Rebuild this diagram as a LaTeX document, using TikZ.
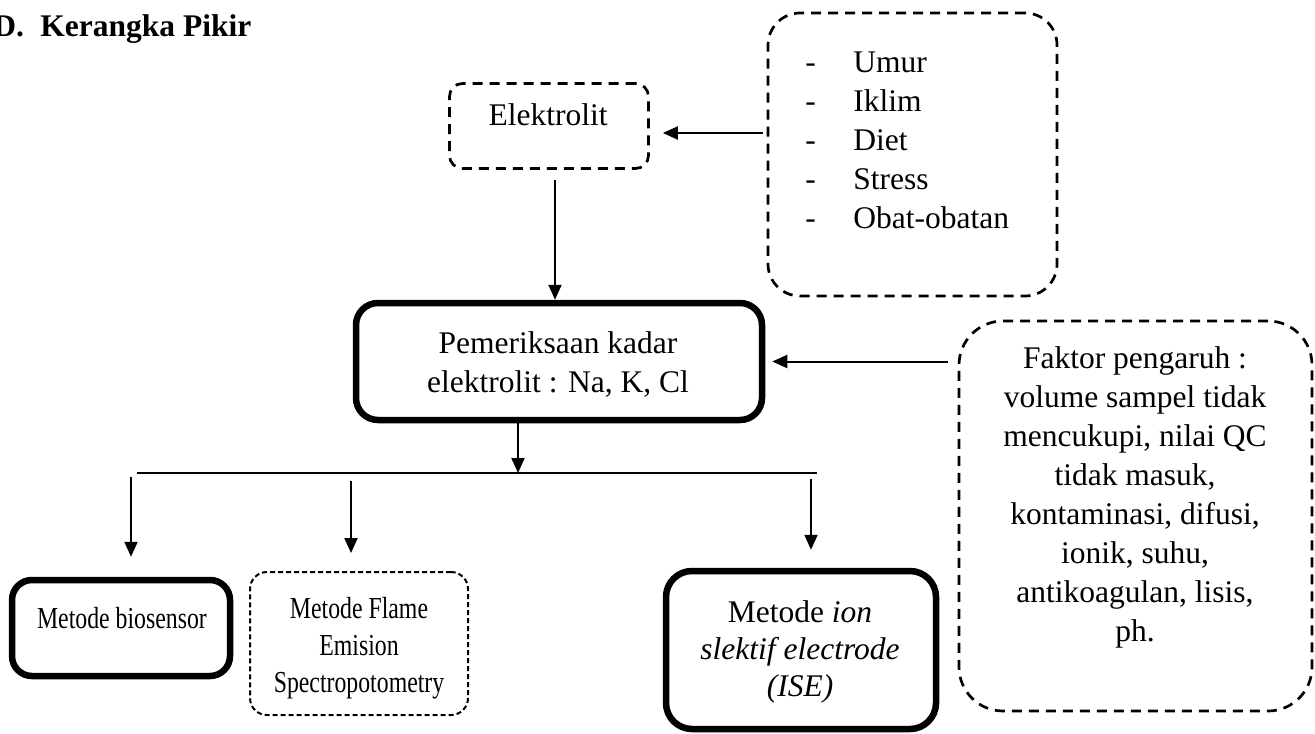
\documentclass[tikz,border=0pt]{standalone}
\usepackage{fontspec}
\setmainfont{Liberation Serif}
\newfontfamily\narrowfont{Liberation Serif}[FakeStretch=0.78]
\usetikzlibrary{arrows.meta,calc}
\newcommand{\txtfont}{\fontsize{15.75pt}{19.5pt}\selectfont}
\newcommand{\lowfont}{\fontsize{15.75pt}{18.5pt}\selectfont}
\newcommand{\thinfont}{\fontsize{15.25pt}{18.5pt}\selectfont\narrowfont}
\newcommand{\itm}[1]{\makebox[24pt][l]{-}#1}
\tikzset{
  solidbox/.style={draw, line width=3.25pt, rounded corners=11pt, inner sep=0pt},
  dashbox/.style={draw, line width=1.35pt, dash pattern=on 5pt off 3.5pt, inner sep=0pt},
  dotbox/.style={draw, line width=1pt, dash pattern=on 2.5pt off 1.5pt, rounded corners=8.5pt, inner sep=0pt},
  txt/.style={inner sep=0pt, align=center, anchor=north, font=\txtfont},
  arr/.style={-{Triangle[length=7.5pt,width=6.5pt]}, line width=1pt},
}

\begin{document}
\begin{tikzpicture}[x=0.5pt,y=-0.5pt]
  \useasboundingbox (0,0) rectangle (1315,733);
  \node[anchor=base west, inner sep=0pt, font=\txtfont\bfseries] (judul) at (-7,37) {D.\hspace{8.2pt}Kerangka Pikir};

  \node[dashbox, rounded corners=6.5pt, minimum width=99.5pt, minimum height=42.5pt] (elek) at (549,126) {};
  \node[txt] (elekteks) at (548,97.7) {\strut Elektrolit};

  \node[dashbox, rounded corners=16pt, minimum width=144.5pt, minimum height=141.5pt] (umur) at (912.5,154.5) {};
  \node[txt, anchor=north west, align=left] (umurteks) at (805,44.7) {\strut\itm{Umur}\\\itm{Iklim}\\\itm{Diet}\\\itm{Stress}\\\itm{Obat-obatan}};

  \node[solidbox, minimum width=203pt, minimum height=58.5pt] (periksa) at (559,361.5) {};
  \node[txt] (periksateks) at (558,325.7) {\strut Pemeriksaan kadar\\elektrolit : Na, K, Cl};

  \node[dashbox, rounded corners=22pt, minimum width=176.5pt, minimum height=195pt] (faktor) at (1135.5,516) {};
  \node[txt] (faktorteks) at (1135,340.7) {\strut Faktor pengaruh :\\volume sampel tidak\\mencukupi, nilai QC\\tidak masuk,\\kontaminasi, difusi,\\ionik, suhu,\\antikoagulan, lisis,\\ph.};

  \node[solidbox, rounded corners=10pt, minimum width=109pt, minimum height=48pt] (bio) at (121,628) {};
  \node[txt, font=\thinfont] (bioteks) at (122,602) {\strut Metode biosensor};

  \node[dotbox, minimum width=109pt, minimum height=71.5pt] (flame) at (359,643.5) {};
  \node[txt, font=\thinfont] (flameteks) at (359,592) {\strut Metode Flame\\Emision\\Spectropotometry};

  \node[solidbox, rounded corners=13pt, minimum width=135pt, minimum height=79pt] (ise) at (801,650) {};
  \node[txt, font=\lowfont] (iseteks) at (800,596) {\strut Metode \textit{ion}\\\textit{slektif electrode}\\\textit{(ISE)}};

  \coordinate (busL) at (137,473);
  \coordinate (busR) at (817,473);
  \coordinate (split) at (518,473);
  \draw[line width=0.75pt] (busL) -- (busR);

  \draw[arr] ($(elek.south)+(6,10)$) -- ($(elek.south |- periksa.north)+(6,0)$);
  \draw[arr] ($(umur.west)+(-4,-21.5)$) -- ($(elek.east)+(13,7)$);
  \draw[arr] ($(faktor.west |- periksa.east)+(-10,0)$) -- ($(periksa.east)+(7,0)$);
  \draw[arr] (split |- periksa.south) -- (split);
  \draw[arr] ($(bio.north |- busL)+(10,4)$) -- ($(bio.north)+(10,-20)$);
  \draw[arr] ($(flame.north |- busL)+(-8,8)$) -- ($(flame.north)+(-8,-18)$);
  \draw[arr] ($(ise.north |- busL)+(10,6)$) -- ($(ise.north)+(10,-18)$);
\end{tikzpicture}
\end{document}
